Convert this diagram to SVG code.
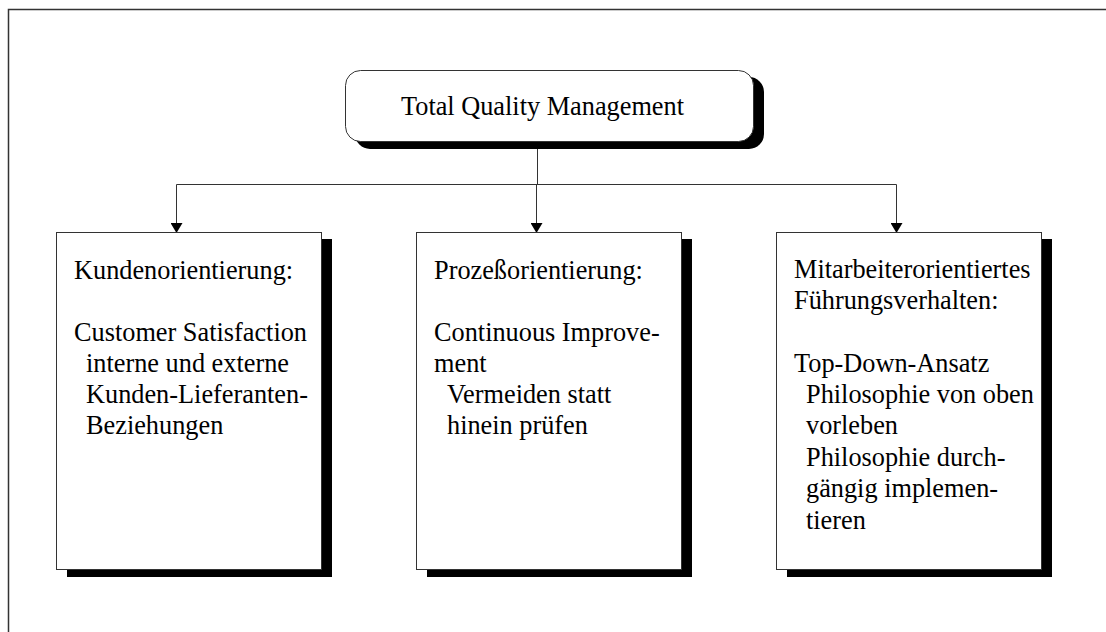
<svg xmlns="http://www.w3.org/2000/svg" width="1106" height="632" viewBox="0 0 1106 632">
  <style>
    .frame { fill: none; stroke: #333; stroke-width: 1.5; }
    .box { fill: #fff; stroke: #333; stroke-width: 1; }
    .shadow { fill: #000; }
    .edge { fill: none; stroke: #333; stroke-width: 1; }
    text { font-family: "Liberation Serif", "Times New Roman", serif; font-size: 26.3px; fill: #000; }
  </style>
  <defs>
    <marker id="arrow" markerWidth="10" markerHeight="12" refX="10" refY="6" orient="auto" markerUnits="userSpaceOnUse" viewBox="0 0 10 12">
      <path d="M0,0 L10,6 L0,12 Z" fill="#000"/>
    </marker>
  </defs>

  <rect width="1106" height="632" fill="#fff"/>
  <!-- outer frame (left and top edges) -->
  <path class="frame" d="M8.5,640 L8.5,9.5 L1110,9.5"/>

  <!-- connectors -->
  <g id="connectors">
    <path class="edge" d="M537.5,142 L537.5,184.5"/>
    <path class="edge" d="M176.5,184.5 L896.5,184.5"/>
    <path class="edge" d="M176.5,184.5 L176.5,233" marker-end="url(#arrow)"/>
    <path class="edge" d="M536.5,184.5 L536.5,233" marker-end="url(#arrow)"/>
    <path class="edge" d="M896.5,184.5 L896.5,233" marker-end="url(#arrow)"/>
  </g>

  <!-- root node -->
  <g id="node-tqm">
    <rect class="shadow" x="355" y="77" width="409" height="72" rx="15" ry="15"/>
    <rect class="box" x="345.5" y="70.5" width="408" height="71" rx="15" ry="15"/>
    <text x="401" y="115">Total Quality Management</text>
  </g>

  <!-- customer orientation -->
  <g id="node-kunden">
    <rect class="shadow" x="67" y="239" width="265" height="338"/>
    <rect class="box" x="56.5" y="232.5" width="265" height="337"/>
    <text x="74" y="279">Kundenorientierung:</text>
    <text x="74" y="341">Customer Satisfaction</text>
    <text x="86" y="372">interne und externe</text>
    <text x="86" y="403">Kunden-Lieferanten-</text>
    <text x="86" y="434">Beziehungen</text>
  </g>

  <!-- process orientation -->
  <g id="node-prozess">
    <rect class="shadow" x="427" y="239" width="265" height="338"/>
    <rect class="box" x="416.5" y="232.5" width="265" height="337"/>
    <text x="434" y="279">Prozeßorientierung:</text>
    <text x="434" y="341">Continuous Improve-</text>
    <text x="434" y="372">ment</text>
    <text x="447" y="403">Vermeiden statt</text>
    <text x="447" y="434">hinein prüfen</text>
  </g>

  <!-- employee-oriented leadership -->
  <g id="node-mitarbeiter">
    <rect class="shadow" x="787" y="239" width="265" height="338"/>
    <rect class="box" x="776.5" y="232.5" width="265" height="337"/>
    <text x="794" y="278">Mitarbeiterorientiertes</text>
    <text x="794" y="309">Führungsverhalten:</text>
    <text x="794" y="372">Top-Down-Ansatz</text>
    <text x="806" y="403">Philosophie von oben</text>
    <text x="806" y="434">vorleben</text>
    <text x="806" y="466">Philosophie durch-</text>
    <text x="806" y="497">gängig implemen-</text>
    <text x="806" y="529">tieren</text>
  </g>
</svg>
